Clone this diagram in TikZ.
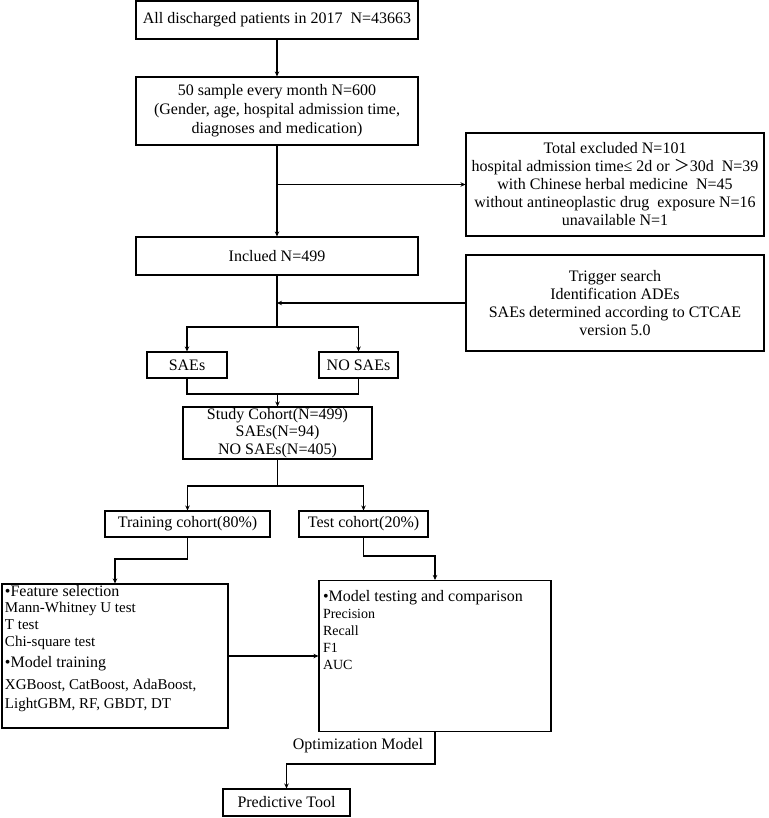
\documentclass[tikz,border=0pt]{standalone}
\usepackage{fontspec}
\setmainfont{Liberation Serif}
\newfontfamily\cjk{Noto Sans CJK SC}
\usetikzlibrary{arrows.meta}

\tikzset{
	box/.style={draw, line width=1.1pt, inner sep=0pt, align=center},
	arr/.style={-{Stealth[length=5pt,width=4.5pt]}},
	link/.style={line width=1.1pt}
}

\begin{document}
\begin{tikzpicture}[x=1pt,y=-1pt,font=\fontsize{16}{18}\selectfont]
	\useasboundingbox (0,0) rectangle (768,818);

	\node[box,minimum width=282pt,minimum height=38pt] (all) at (277,20) {All discharged patients in 2017~ N=43663};
	\node[box,minimum width=282pt,minimum height=68pt,font=\fontsize{16}{19}\selectfont] (sample) at (277,111) {50 sample every month N=600\\(Gender, age, hospital admission time,\\diagnoses and medication)};
	\node[box,minimum width=282pt,minimum height=38pt] (incl) at (277,256) {Inclued N=499};
	\node[box,minimum width=298pt,minimum height=103pt] (excl) at (615,184.5) {Total excluded N=101\\hospital admission time≤ 2d or {\cjk ＞}30d~ N=39\\with Chinese herbal medicine~ N=45\\without antineoplastic drug~ exposure N=16\\unavailable N=1};
	\node[box,minimum width=298pt,minimum height=96pt] (trig) at (615,303) {Trigger search\\Identification ADEs\\SAEs determined according to CTCAE\\version 5.0};
	\node[box,minimum width=80pt,minimum height=26pt] (sae) at (187,365) {SAEs};
	\node[box,minimum width=79pt,minimum height=26pt] (nosae) at (358.5,365) {NO SAEs};
	\node[box,minimum width=189pt,minimum height=52pt,font=\fontsize{16}{17.5}\selectfont] (cohort) at (277.5,433) {Study Cohort(N=499)\\SAEs(N=94)\\NO SAEs(N=405)};
	\node[box,minimum width=165pt,minimum height=26pt] (train) at (187.5,524) {Training cohort(80\%)};
	\node[box,minimum width=129pt,minimum height=26pt] (test) at (363.5,524) {Test cohort(20\%)};
	\node[box,inner xsep=3pt] (feat) at (115,656) {\parbox[c][144pt][t]{220pt}{\fontsize{15}{17}\selectfont\vspace*{1pt}%
		{\fontsize{16}{17}\selectfont •Feature selection}\\[-1pt]
		Mann-Whitney U test\\
		T test\\
		Chi-square test\\[4pt]
		{\fontsize{16}{17}\selectfont •Model training}\\[5pt]
		XGBoost, CatBoost, AdaBoost,\\[2pt]
		LightGBM, RF, GBDT, DT}};
	\node[box,inner xsep=4pt] (eval) at (435,656) {\parbox[c][151pt][t]{224pt}{\fontsize{14}{17}\selectfont\vspace*{10pt}%
		{\fontsize{16}{17}\selectfont •Model testing and comparison}\\[-0.5pt]
		Precision\\
		Recall\\
		F1\\
		AUC}};
	\node (opt) at (358,746) {Optimization Model};
	\node[box,minimum width=127pt,minimum height=27pt] (tool) at (286.5,802.5) {Predictive Tool};

	\coordinate (split1) at (277,327);
	\coordinate (join1) at (277.5,394);
	\coordinate (split2) at (277.5,486);
	\coordinate (bend1) at (115,559);
	\coordinate (bend2) at (435,556);
	\coordinate (bend3) at (286.5,764);

	\draw[link,arr] (all) -- (sample);
	\draw[link,arr] (sample) -- (incl);
	\draw[link,arr] (sample.south |- excl.west) -- (excl.west);
	\draw[link,arr] (trig.west) -- (incl.south |- trig.west);
	\draw[link] (incl) -- (split1);
	\draw[link,arr] (split1) -| (sae);
	\draw[link,arr] (split1) -| (nosae);
	\draw[link] (sae) |- (join1);
	\draw[link] (nosae) |- (join1);
	\draw[link,arr] (join1) -- (cohort);
	\draw[link] (cohort) -- (split2);
	\draw[link,arr] (split2) -| (train);
	\draw[link,arr] (split2) -| (test);
	\draw[link,arr] (train) |- (bend1) -- (feat);
	\draw[link,arr] (test) |- (bend2) -- (eval);
	\draw[link,arr] (feat) -- (eval);
	\draw[link,arr] (eval.south) |- (bend3) -- (tool);
\end{tikzpicture}
\end{document}
